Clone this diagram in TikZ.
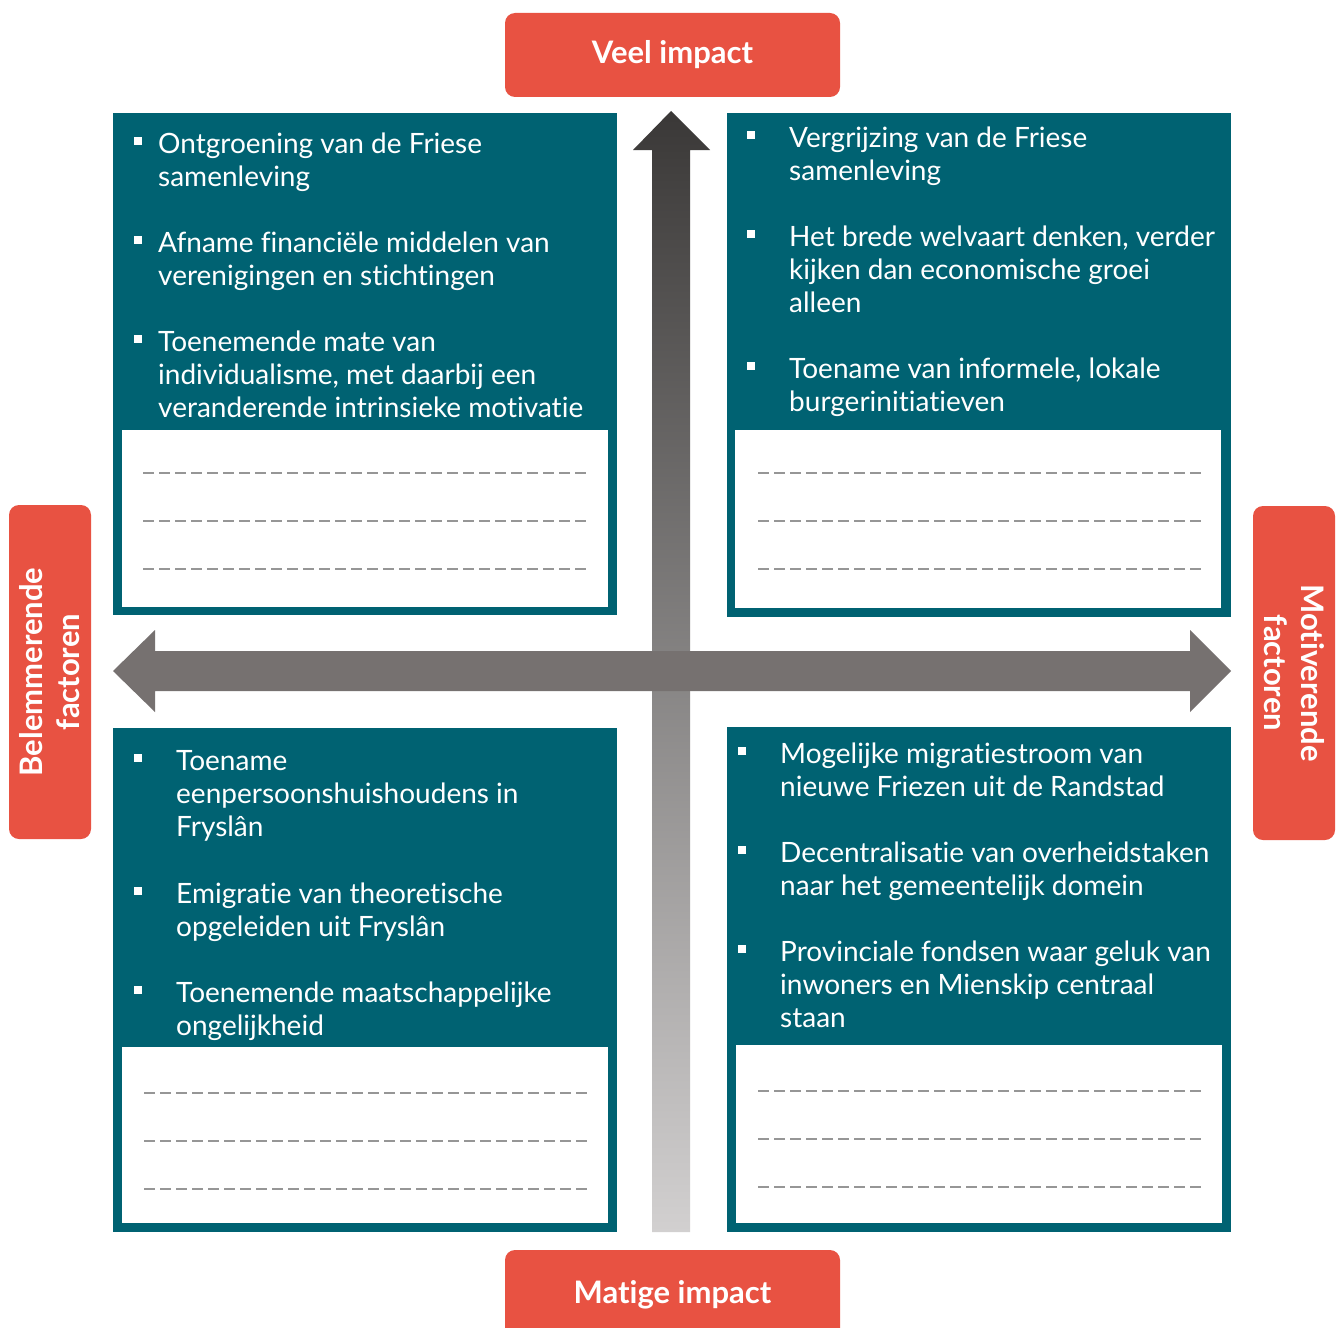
\documentclass[tikz,border=0pt]{standalone}
\usepackage{fontspec}
\setmainfont{Lato}[Ligatures=NoCommon]
\definecolor{quadteal}{RGB}{0,98,114}
\definecolor{labred}{RGB}{232,82,66}
\definecolor{arrgray}{RGB}{118,113,112}
\definecolor{arrtop}{RGB}{58,56,55}
\definecolor{arrmid}{RGB}{108,104,103}
\definecolor{arrbot}{RGB}{210,208,208}
\definecolor{dashgray}{RGB}{150,150,150}
\newcommand\itemfont{\fontsize{28}{33}\selectfont}
\newcommand\labfont{\fontsize{31}{37}\selectfont\bfseries}
\newcommand\itm[5]{%
  \node[bulletbox] (#1b) at (#2,#4-12) {};
  \node[itemtxt] (#1) at (#3,#4-24) {\rule{0pt}{24pt}#5};}
\begin{document}
\begin{tikzpicture}[x=1pt,y=-1pt,
  lab/.style={fill=labred, rounded corners=10pt, text=white, font=\labfont, align=center, inner sep=0pt},
  quadbox/.style={fill=quadteal},
  answerbox/.style={fill=white},
  dashline/.style={draw=dashgray, line width=1.3pt, dash pattern=on 11pt off 5pt},
  bulletbox/.style={fill=white, rectangle, inner sep=0pt, minimum size=8pt},
  itemtxt/.style={anchor=north west, inner sep=0pt, align=left, text=white, font=\itemfont}]
\useasboundingbox (0,0) rectangle (1340,1327);
\fill[white] (0,0) rectangle (1340,1327);

% axis labels
\node[lab, minimum width=335pt, minimum height=84pt] (veel) at (672.5,55) {\raisebox{-3pt}{Veel impact}};
\node[lab, minimum width=335pt, minimum height=90pt] (matig) at (672.5,1295) {\raisebox{-2pt}{Matige impact}};
\node[lab, rotate=90, minimum width=334pt, minimum height=82pt] (belem) at (50,672) {Belemmerende\\factoren};
\node[lab, rotate=-90, minimum width=334pt, minimum height=82pt] (motiv) at (1294,673) {Motiverende\\factoren};

% quadrant boxes
\fill[quadbox] (113,113) rectangle (617,615);
\fill[answerbox] (122,430) rectangle (608,607);
\fill[quadbox] (727,113) rectangle (1231,617);
\fill[answerbox] (735,430) rectangle (1221,608);
\fill[quadbox] (113,728) rectangle (617,1232);
\fill[answerbox] (122,1047) rectangle (608,1223);
\fill[quadbox] (727,727) rectangle (1231,1232);
\fill[answerbox] (736,1045) rectangle (1222,1223);

% dashed answer lines
\foreach \yy in {473,521,569} {
  \draw[dashline] (143,\yy) -- (586,\yy);
  \draw[dashline] (758,\yy) -- (1201,\yy);}
\foreach \yy in {1093,1141,1189} \draw[dashline] (144,\yy) -- (587,\yy);
\foreach \yy in {1091,1139,1187} \draw[dashline] (758,\yy) -- (1201,\yy);

% arrows
\shade[top color=arrtop, middle color=arrmid, bottom color=arrbot]
  (671,111) -- (710,150) -- (690,150) -- (690,1232) -- (652,1232) -- (652,150) -- (633,150) -- cycle;
\fill[arrgray] (113,671) -- (155,630) -- (155,651) -- (1190,651) -- (1190,630) -- (1231,671)
  -- (1190,712) -- (1190,691) -- (155,691) -- (155,712) -- cycle;

% items top left
\itm{tla}{138}{158}{153}{Ontgroening van de Friese\\samenleving}
\itm{tlb}{138}{158}{252}{Afname financiële middelen van\\verenigingen en stichtingen}
\itm{tlc}{138}{158}{351}{Toenemende mate van\\individualisme, met daarbij een\\veranderende intrinsieke motivatie}
% items top right
\itm{tra}{751}{789}{147}{Vergrijzing van de Friese\\samenleving}
\itm{trb}{751}{789}{246}{Het brede welvaart denken, verder\\kijken dan economische groei\\alleen}
\itm{trc}{751}{789}{378}{Toename van informele, lokale\\burgerinitiatieven}
% items bottom left
\itm{bla}{138}{176}{770}{Toename\\eenpersoonshuishoudens in\\Fryslân}
\itm{blb}{138}{176}{903}{Emigratie van theoretische\\opgeleiden uit Fryslân}
\itm{blc}{138}{176}{1002}{Toenemende maatschappelijke\\ongelijkheid}
% items bottom right
\itm{bra}{742}{780}{763}{Mogelijke migratiestroom van\\nieuwe Friezen uit de Randstad}
\itm{brb}{742}{780}{862}{Decentralisatie van overheidstaken\\naar het gemeentelijk domein}
\itm{brc}{742}{780}{961}{Provinciale fondsen waar geluk van\\inwoners en Mienskip centraal\\staan}
\end{tikzpicture}
\end{document}
